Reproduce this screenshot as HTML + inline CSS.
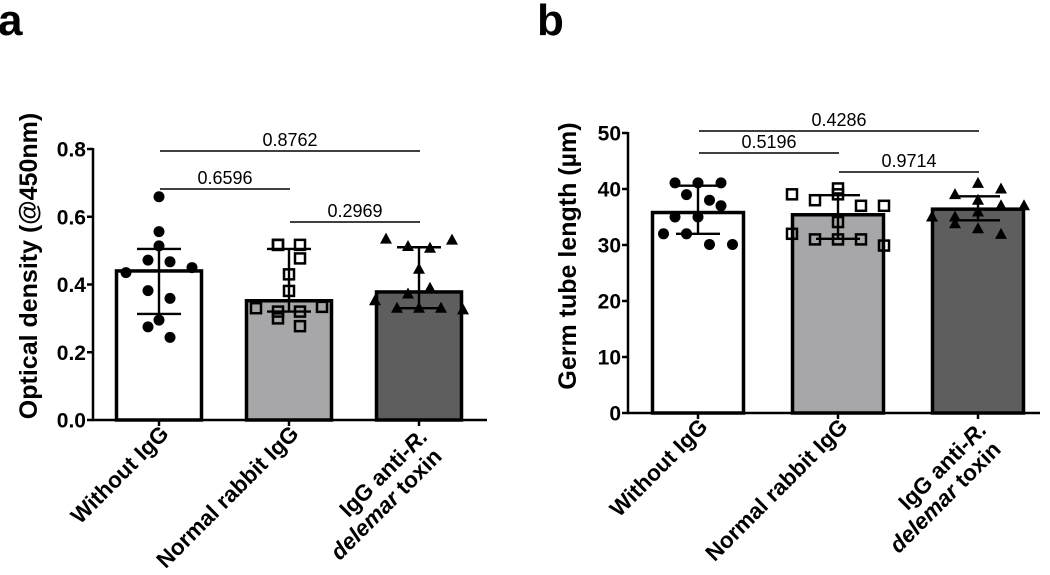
<!DOCTYPE html>
<html><head><meta charset="utf-8"><style>
body{margin:0;background:#fff;width:1050px;height:575px;overflow:hidden}
svg{display:block}
text{font-family:"Liberation Sans",Arial,sans-serif}
</style></head><body>
<svg id="chart" width="1050" height="575" viewBox="0 0 1050 575"></svg>
<script>
// ---- data ----
const categories = ["Without IgG", "Normal rabbit IgG", "IgG anti-R. delemar toxin"];
const aMeans = [0.44, 0.352, 0.378];
const aUpper = [0.505, 0.505, 0.51];
const aLower = [0.313, 0.32, 0.33];
const aPts1 = [0.659,0.556,0.514,0.472,0.467,0.435,0.45,0.382,0.359,0.295,0.275,0.244];
const aPts2 = [0.517,0.517,0.517,0.477,0.43,0.381,0.33,0.334,0.32,0.32,0.3,0.277];
const aPts3 = [0.534,0.531,0.512,0.507,0.445,0.389,0.372,0.352,0.325,0.33,0.33,0.33];
const aTicks = [0, 0.2, 0.4, 0.6, 0.8];
const aTickLabels = ["0.0","0.2","0.4","0.6","0.8"];
const aSig = [["0.8762",0,2],["0.6596",0,1],["0.2969",1,2]];

const bMeans = [35.8, 35.4, 36.4];
const bUpper = [40.6, 38.9, 38.7];
const bLower = [32.0, 31.1, 34.4];
const bPts1 = [41.1,41.1,41.1,39.0,38.0,37.0,35.0,35.0,32.0,32.0,30.1,30.1];
const bPts2 = [39.05,40.1,38.0,39.05,37.0,37.0,34.1,32.0,31.0,31.0,31.0,29.9];
const bPts3 = [41.0,39.0,40.0,38.0,37.0,37.0,35.0,35.0,35.9,33.8,32.9,31.9];
const bTicks = [0,10,20,30,40,50];
const bTickLabels = ["0","10","20","30","40","50"];
const bSig = [["0.4286",0,2],["0.5196",0,1],["0.9714",1,2]];

// jitter layouts (in units of dot spacing)
const aJit1=[0,0,0,-1,1,-3,3,-1,1,0,-1,1], aJit2=[-1,-1,1,1,0,0,-3,3,-1,1,-1,1], aJit3=[-3,3,-1,1,0,1,-1,-4,4,-2,0,2];
const bJit1=[-2,0,2,-1,1,2,-2,0,-3,-1,1,3], bJit2=[-4,0,-2,0,2,4,0,-4,-2,0,2,4], bJit3=[0,-2,2,0,2,4,-4,-2,0,-2,0,2];

const NS="http://www.w3.org/2000/svg";
const svg=document.getElementById('chart');
function el(tag,attrs,parent){const e=document.createElementNS(NS,tag);for(const k in attrs)e.setAttribute(k,attrs[k]);(parent||svg).appendChild(e);return e;}

function panel(cfg){
  const g=el('g',{});
  
  
  const y=v=>cfg.y0-(v-cfg.vmin)/(cfg.vmax-cfg.vmin)*(cfg.y0-cfg.y1);
  const fills=["#ffffff","#a7a7a9","#5e5e5e"];
  cfg.means.forEach((m,i)=>{
    const cx=cfg.cx[i];
    const r=el('rect',{x:cx-cfg.bw/2,y:y(m),width:cfg.bw,height:cfg.y0-y(m),fill:fills[i],stroke:"#000","stroke-width":3.5},g);
    
    
  });
  const shapes=["circle","square","triangle"];
  cfg.pts.forEach((arr,i)=>{
    arr.forEach((v,j)=>{
      const px=cfg.cx[i]+cfg.jit[i][j]*cfg.sp, py=y(v);
      let e;
      if(i===0) e=el('circle',{cx:px,cy:py,r:5.5,fill:"#000"},g);
      else if(i===1) e=el('rect',{x:px-5,y:py-5,width:10,height:10,fill:"none",stroke:"#000","stroke-width":2.5},g);
      else e=el('polygon',{points:`${px},${py-6.5} ${px-6},${py+4.5} ${px+6},${py+4.5}`,fill:"#000"},g);
      
      
    });
  });
  cfg.means.forEach((m,i)=>{
    const cx=cfg.cx[i];
    const e=el('path',{d:`M${cx},${y(cfg.lo[i])}V${y(cfg.up[i])}M${cx-22},${y(cfg.up[i])}H${cx+22}M${cx-22},${y(cfg.lo[i])}H${cx+22}`,stroke:"#000","stroke-width":2.4,fill:"none"},g);
    
    
  });
  const ax=el('path',{d:`M${cfg.ax},${cfg.y1-1}V${cfg.y0}H${cfg.axEnd}`,stroke:"#000","stroke-width":2.5,fill:"none"},g);
  
  
  cfg.ticks.forEach((t,i)=>{
    el('line',{x1:cfg.ax-6,x2:cfg.ax,y1:y(t),y2:y(t),stroke:"#000","stroke-width":2.5},g);
    const tl=el('text',{x:cfg.ax-7,y:y(t)+7.5,"text-anchor":"end","font-size":21,"font-weight":"bold"},g);
    tl.textContent=cfg.tickLabels[i];
    
    
  });
  cfg.cx.forEach(cx=>el('line',{x1:cx,x2:cx,y1:cfg.y0,y2:cfg.y0+6,stroke:"#000","stroke-width":2.5},g));
  const yt=el('text',{transform:`translate(${cfg.titleX},${cfg.titleY}) rotate(-90)`,"text-anchor":"middle","font-size":25,"font-weight":"bold"},g);
  yt.textContent=cfg.title;
  
  
  [0,1].forEach(i=>{
    const t=el('text',{transform:`translate(${cfg.cx[i]+11},${cfg.y0+15}) rotate(-45)`,"text-anchor":"end","font-size":22.5,"font-weight":"bold"},g);
    t.textContent=categories[i];
    
    
  });
  const t3=el('text',{transform:`translate(${cfg.cx[2]+10},${cfg.y0+18}) rotate(-45)`,"text-anchor":"end","font-size":22.5,"font-weight":"bold"},g);
  t3.innerHTML='<tspan x="0" y="0">IgG anti-<tspan font-style="italic">R.</tspan></tspan><tspan x="-4" y="24"><tspan font-style="italic">delemar</tspan> toxin</tspan>';
  
  
  cfg.sig.forEach((s,k)=>{
    const x1=cfg.cx[s[1]]+1, x2=cfg.cx[s[2]]+1, yy=cfg.sigY[k];
    el('line',{x1:x1,x2:x2,y1:yy,y2:yy,stroke:"#000","stroke-width":1.4},g);
    const st=el('text',{x:(x1+x2)/2,y:yy-5,"text-anchor":"middle","font-size":18},g);
    st.textContent=s[0];
    
    
  });
  const L=el('text',{x:cfg.letterX,y:35,"font-size":44,"font-weight":"bold"},g);
  L.textContent=cfg.letter;
  
  
}

panel({name:'panel-a',letter:'a',letterX:-2,y0:420,y1:149,vmin:0,vmax:0.8,cx:[159,289,419],bw:85,sp:11,
  means:aMeans,up:aUpper,lo:aLower,pts:[aPts1,aPts2,aPts3],jit:[aJit1,aJit2,aJit3],
  ticks:aTicks,tickLabels:aTickLabels,ax:93,axEnd:487,title:"Optical density (@450nm)",titleX:37,titleY:266,
  sig:aSig,sigY:[151,189,222]});
panel({name:'panel-b',letter:'b',letterX:537,y0:413,y1:133,vmin:0,vmax:50,cx:[698,838,978],bw:91,sp:11.5,
  means:bMeans,up:bUpper,lo:bLower,pts:[bPts1,bPts2,bPts3],jit:[bJit1,bJit2,bJit3],
  ticks:bTicks,tickLabels:bTickLabels,ax:628,axEnd:1040,title:"Germ tube length (µm)",titleX:576,titleY:256,
  sig:bSig,sigY:[131,153,172]});
</script>
</body></html>
